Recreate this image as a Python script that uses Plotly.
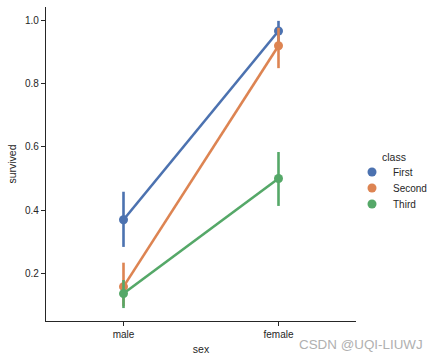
import plotly.graph_objects as go

sex = ["male", "female"]
classes = ["First", "Second", "Third"]
survived = {
    "First": [0.369, 0.968],
    "Second": [0.157, 0.921],
    "Third": [0.135, 0.500],
}
ci_low = {
    "First": [0.283, 0.930],
    "Second": [0.095, 0.850],
    "Third": [0.089, 0.413],
}
ci_high = {
    "First": [0.458, 1.000],
    "Second": [0.233, 0.978],
    "Third": [0.178, 0.584],
}
colors = {"First": "#4C72B0", "Second": "#DD8452", "Third": "#55A868"}
yticks = [0.2, 0.4, 0.6, 0.8, 1.0]

W, H = 438, 362
L, R, T, B = 46, 82, 7, 41
PW, PH = W - L - R, H - T - B


def px_x(x):
    return (x - L) / PW


def px_y(y):
    return (H - B - y) / PH


fig = go.Figure()
for c in classes:
    y = survived[c]
    plus = [h - v for h, v in zip(ci_high[c], y)]
    minus = [v - l for v, l in zip(y, ci_low[c])]
    fig.add_trace(go.Scatter(
        x=[0, 1], y=y, mode="lines+markers",
        line=dict(color=colors[c], width=2.6),
        marker=dict(color=colors[c], size=9),
        error_y=dict(type="data", array=plus, arrayminus=minus,
                     color=colors[c], thickness=2.6, width=0, symmetric=False),
        showlegend=False, hoverinfo="skip",
    ))

axis_color = "#262626"
font_family = "Liberation Sans, Arial, sans-serif"

shapes = []
annotations = [
    dict(text="class", xref="paper", yref="paper", x=px_x(380), y=px_y(157),
         xanchor="left", yanchor="middle", showarrow=False,
         font=dict(size=10.5, color=axis_color, family=font_family)),
    dict(text="CSDN @UQI-LIUWJ", xref="paper", yref="paper",
         x=px_x(425), y=px_y(344), xanchor="right", yanchor="middle", showarrow=False,
         font=dict(size=13.4, color="#b0b0b0", family=font_family)),
]
r = 4.5
for i, c in enumerate(classes):
    cy = 172 + 16 * i
    cx = 372
    shapes.append(dict(type="circle", xref="paper", yref="paper",
                       x0=px_x(cx - r), x1=px_x(cx + r),
                       y0=px_y(cy + r), y1=px_y(cy - r),
                       fillcolor=colors[c], line=dict(width=0)))
    annotations.append(dict(text=c, xref="paper", yref="paper",
                            x=px_x(391), y=px_y(cy), xanchor="left", yanchor="middle",
                            showarrow=False,
                            font=dict(size=10, color=axis_color, family=font_family)))

fig.update_layout(
    width=W, height=H,
    margin=dict(l=L, r=R, t=T, b=B, autoexpand=False),
    paper_bgcolor="white", plot_bgcolor="white",
    showlegend=False,
    font=dict(family=font_family, size=10, color=axis_color),
    xaxis=dict(
        range=[-0.5, 1.5], tickmode="array", tickvals=[0, 1], ticktext=sex,
        showgrid=False, zeroline=False, showline=True, linecolor=axis_color, linewidth=1.2,
        ticks="outside", ticklen=4, tickcolor=axis_color, tickwidth=1.2,
        automargin=False,
        title=dict(text="sex", standoff=6, font=dict(size=10.5)),
    ),
    yaxis=dict(
        range=[0.048, 1.044], tickmode="array", tickvals=yticks,
        ticktext=[f"{v:.1f}" for v in yticks],
        showgrid=False, zeroline=False, showline=True, linecolor=axis_color, linewidth=1.2,
        ticks="outside", ticklen=4, tickcolor=axis_color, tickwidth=1.2,
        automargin=False,
        title=dict(text="survived", standoff=6, font=dict(size=10.5)),
    ),
    shapes=shapes,
    annotations=annotations,
)
fig.write_html("out.html", config={"displayModeBar": False},
               post_script="document.body.style.margin='0';")
